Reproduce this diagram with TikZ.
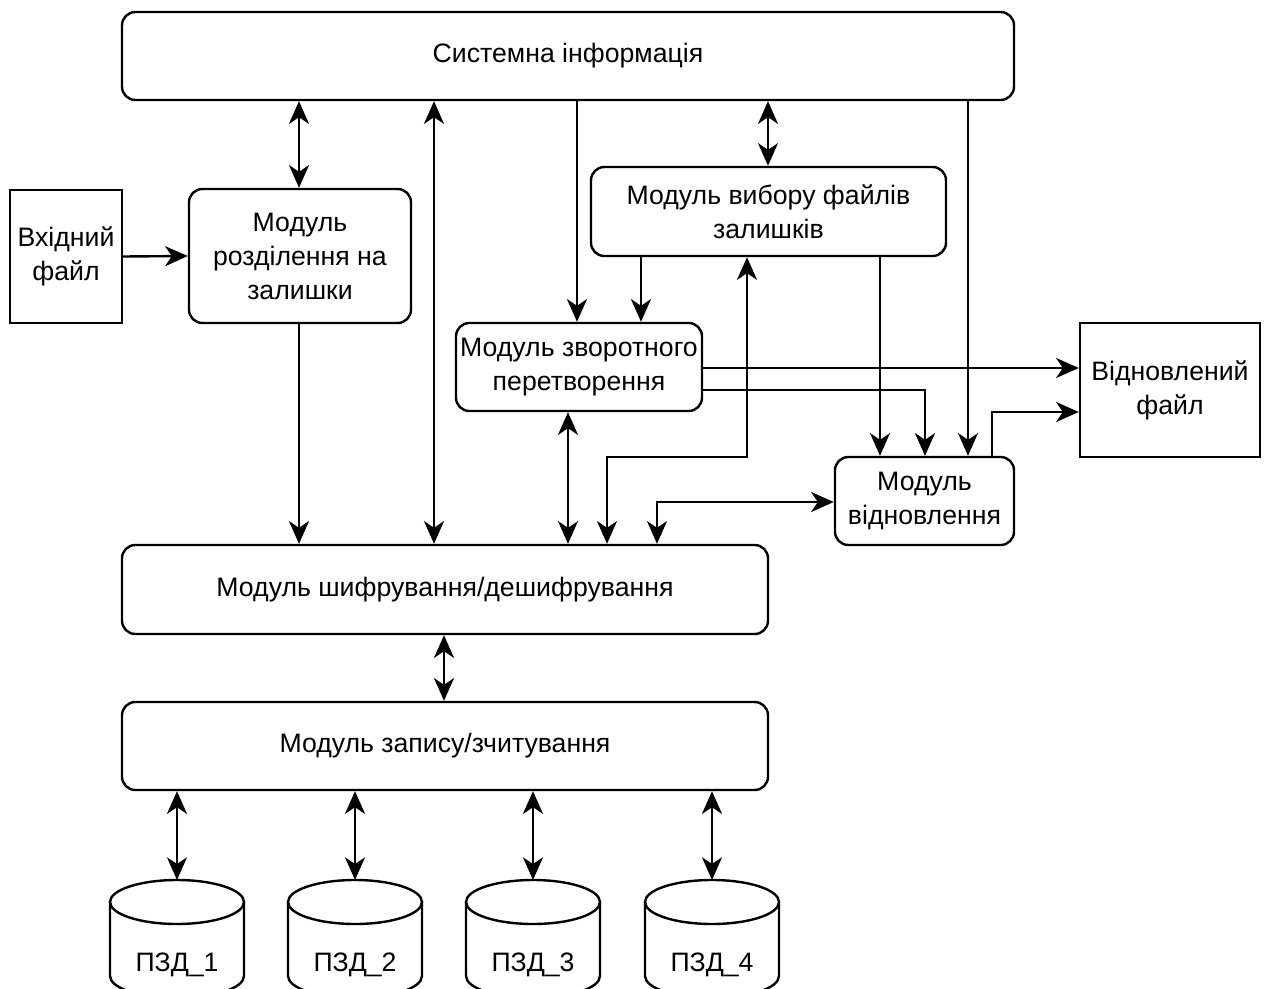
\documentclass[tikz,border=0pt]{standalone}
\usepackage{fontspec}
\setmainfont{Liberation Sans}
\usetikzlibrary{fit,arrows.meta}
\begin{document}
\begin{tikzpicture}[x=0.75pt,y=-0.75pt,
  line width=1.8pt,
  font=\fontsize{20}{25.5}\selectfont,
  module/.style={draw, rounded corners=10pt, inner sep=0pt},
  filebox/.style={draw, inner sep=0pt},
  caption/.style={align=center, inner sep=0pt},
  tip/.style={-{Stealth[length=17pt,width=15pt,inset=5pt]}},
  both/.style={{Stealth[length=17pt,width=15pt,inset=5pt]}-{Stealth[length=17pt,width=15pt,inset=5pt]}}]
\useasboundingbox (0,0) rectangle (1265,989);

% modules and files
\node[module, fit={(122,12) (1014,100)}] (sys) {};
\node[filebox, fit={(10,190) (122,323)}] (vkh) {};
\node[module, fit={(189,189) (411,323)}] (raz) {};
\node[module, fit={(591,167) (946,256)}] (vyb) {};
\node[module, fit={(456,323) (702,411)}] (zvor) {};
\node[filebox, fit={(1080,323) (1260,457)}] (vf) {};
\node[module, fit={(835,457) (1014,545)}] (vidn) {};
\node[module, fit={(122,545) (768,634)}] (shyf) {};
\node[module, fit={(122,702) (768,790)}] (zap) {};

% their captions
\node[caption] (sysT)  at (sys.center)  {Системна інформація};
\node[caption] (vkhT)  at (vkh.center)  {Вхідний\\файл};
\node[caption] (razT)  at (raz.center)  {Модуль\\розділення на\\залишки};
\node[caption] (vybT)  at (vyb.center)  {Модуль вибору файлів\\залишків};
\node[caption] (zvorT) at (zvor.center) {Модуль зворотного\\перетворення};
\node[caption] (vfT)   at (vf.center)   {Відновлений\\файл};
\node[caption] (vidnT) at (vidn.center) {Модуль\\відновлення};
\node[caption] (shyfT) at (shyf.center) {Модуль шифрування/дешифрування};
\node[caption] (zapT)  at (zap.center)  {Модуль запису/зчитування};

% storage drums
\foreach \i/\cx in {1/177,2/355,3/533,4/712}{
  \draw[fill=white] (\cx-67,902) -- (\cx-67,976)
     arc[start angle=180, end angle=360, x radius=67, y radius=-22]
     -- (\cx+67,902);
  \draw (\cx,902) ellipse[x radius=67, y radius=22];
  \coordinate (d\i) at (\cx,880);
  \node (t\i) at (\cx,965) {ПЗД\_\i};
}

% connections to the system information block
\draw[both] (299,0 |- sys.south) -- (299,0 |- raz.north);
\draw[both] (434,0 |- sys.south) -- (434,0 |- shyf.north);
\draw[tip]  (577,0 |- sys.south) -- (577,0 |- zvor.north);
\draw[both] (768,0 |- sys.south) -- (768,0 |- vyb.north);
\draw[tip]  (968,0 |- sys.south) -- (968,0 |- vidn.north);

% data flow between modules
\draw[tip]  (vkh.east) -- (raz.west);
\draw[tip]  (299,0 |- raz.south) -- (299,0 |- shyf.north);
\draw[tip]  (641,0 |- vyb.south) -- (641,0 |- zvor.north);
\draw[tip]  (880,0 |- vyb.south) -- (880,0 |- vidn.north);
\draw[tip]  (zvor.east |- 0,368) -- (vf.west |- 0,368);
\draw[tip]  (zvor.east |- 0,390) -| (925,0 |- vidn.north);
\draw[both] (568,0 |- zvor.south) -- (568,0 |- shyf.north);
\draw[both] (607,0 |- shyf.north) |- (747,457) -- (747,0 |- vyb.south);
\draw[both] (657,0 |- shyf.north) |- (vidn.west |- 0,502);
\draw[tip]  (992,0 |- vidn.north) |- (vf.west |- 0,412);
\draw[both] (444,0 |- shyf.south) -- (444,0 |- zap.north);

% read/write to the drums
\foreach \i/\cx in {1/177,2/355,3/533,4/712}
  \draw[both] (\cx,0 |- zap.south) -- (d\i);
\end{tikzpicture}
\end{document}
